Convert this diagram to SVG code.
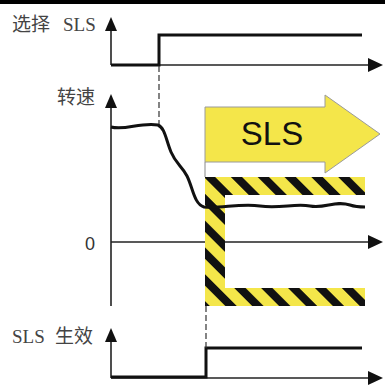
<svg xmlns="http://www.w3.org/2000/svg" width="385" height="389" viewBox="0 0 385 389">
<defs>
<style>
.lbl{font-family:"Liberation Serif","Noto Sans CJK SC",serif;font-size:19px;fill:#444}
.axis{stroke:#222;stroke-width:1.6;fill:none}
.sig{stroke:#111;stroke-width:3;fill:none}
.dash{stroke:#333;stroke-width:1.2;stroke-dasharray:6 3;fill:none}
.ah{fill:#111}
</style>
<pattern id="haz" patternUnits="userSpaceOnUse" width="19" height="19" patternTransform="rotate(-45)">
<rect width="19" height="19" fill="#f4e64a"/>
<rect width="8" height="19" fill="#111"/>
</pattern>
</defs>
<rect x="0" y="0" width="385" height="4" fill="#000"/>
<g id="axis-select">
<text class="lbl" y="31"><tspan x="12">选择</tspan><tspan x="63">SLS</tspan></text>
<line class="axis" x1="111" y1="30" x2="111" y2="65"/>
<polygon class="ah" points="111,17 105,31 117,31"/>
<line class="axis" x1="111" y1="65" x2="370" y2="65"/>
<polygon class="ah" points="383,65 368,58 368,72"/>
<polyline class="sig" points="111,65 159,65 159,35 362,35"/>
</g>
<g id="axis-speed">
<text class="lbl" x="57" y="104">转速</text>
<line class="axis" x1="111" y1="107" x2="111" y2="306"/>
<polygon class="ah" points="111,94 105,108 117,108"/>
<text x="85" y="250" style="font-family:'Liberation Sans',sans-serif;font-size:18px;fill:#333">0</text>
<line class="axis" x1="111" y1="242" x2="370" y2="242"/>
<polygon class="ah" points="383,242 368,235 368,249"/>
</g>
<g id="sls-arrow">
<polygon points="205,107 325,107 325,95 380,134 325,173 325,162 205,162" fill="#f4e64a" stroke="#9a9a9a" stroke-width="1"/>
<text x="272" y="145" text-anchor="middle" style="font-family:'Liberation Sans',sans-serif;font-size:33px;fill:#111">SLS</text>
</g>
<g id="limit-bracket">
<path d="M205,177 H365 V195 H225 V288 H365 V306 H205 Z" fill="url(#haz)"/>
</g>
<g id="speed-curve">
<path class="sig" d="M111,127 C125,131 140,122 158,125 C165,128 166,140 171,152 C176,164 182,166 187,176 C193,188 194,204 204,207 C220,209 240,203 260,206 C280,209 295,203 310,206 C325,209 335,200 350,205 C356,207 360,207 365,207"/>
</g>
<g id="axis-active">
<text class="lbl" y="343"><tspan x="12">SLS</tspan><tspan x="55">生效</tspan></text>
<line class="axis" x1="111" y1="342" x2="111" y2="378"/>
<polygon class="ah" points="111,328 105,342 117,342"/>
<line class="axis" x1="111" y1="378" x2="370" y2="378"/>
<polygon class="ah" points="383,378 368,371 368,385"/>
<polyline class="sig" points="111,377 206,377 206,348 362,348"/>
</g>
<g id="connectors">
<line class="dash" x1="159" y1="66" x2="159" y2="124"/>
<line x1="205" y1="162" x2="205" y2="177" stroke="#888" stroke-width="1"/>
<line class="dash" x1="206" y1="306" x2="206" y2="348"/>
</g>
</svg>
